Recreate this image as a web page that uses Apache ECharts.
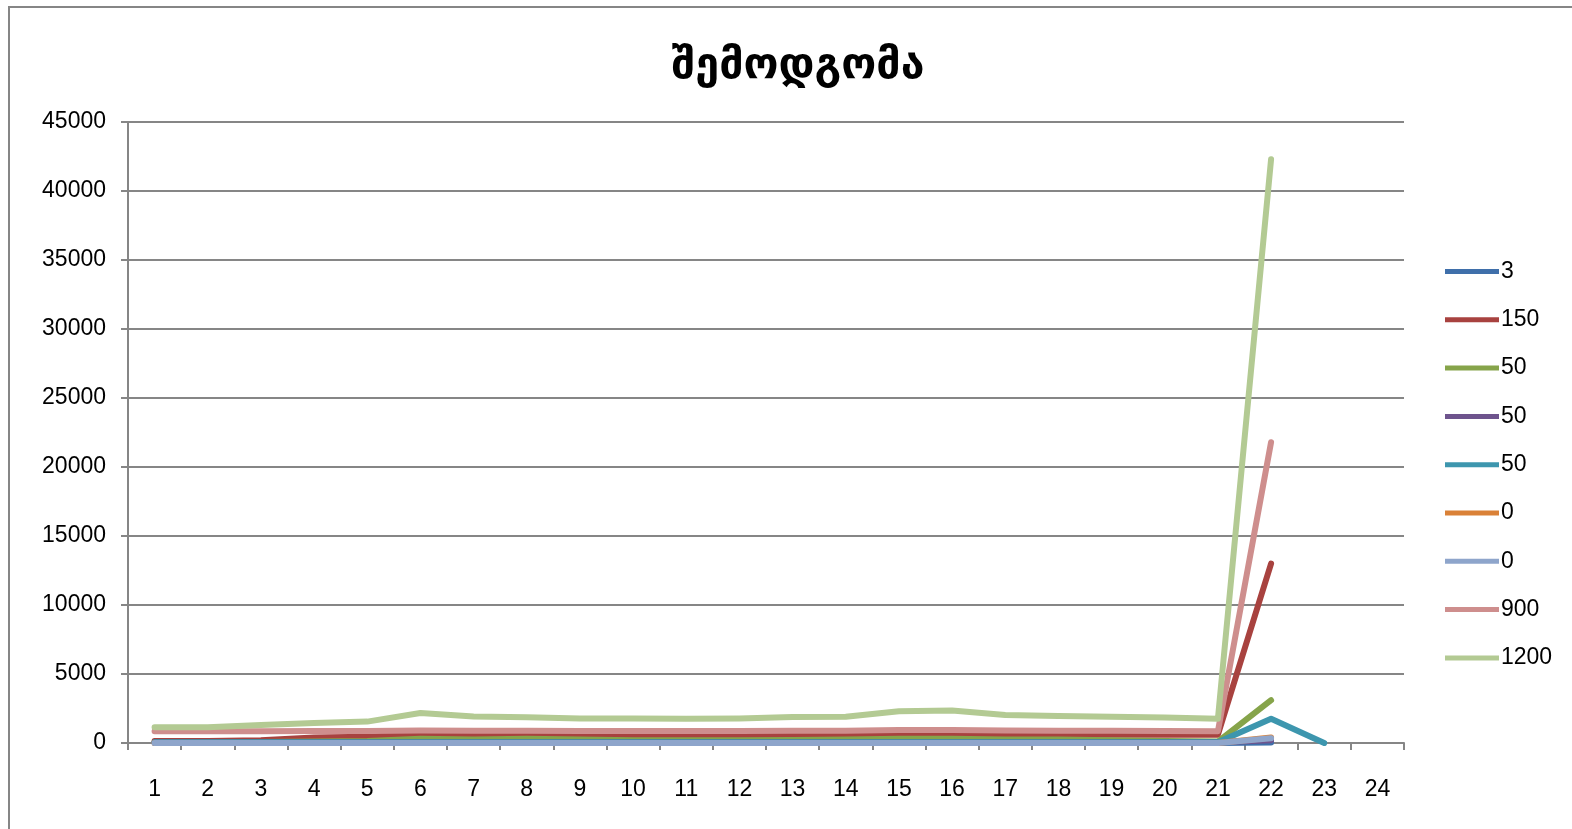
<!DOCTYPE html>
<html><head><meta charset="utf-8">
<script src="https://cdn.jsdelivr.net/npm/echarts@6/dist/echarts.min.js"></script>
<style>html,body{margin:0;padding:0;background:#fff;}#c{width:1572px;height:829px;}</style>
</head><body><div id="c"></div>
<script>
const title = 'შემოდგომა';
const categories = ['1','2','3','4','5','6','7','8','9','10','11','12','13','14','15','16','17','18','19','20','21','22','23','24'];
const seriesNames = ['3','150','50','50','50','0','0','900','1200'];
const s3    = [3,3,3,3,3,3,3,3,3,3,3,3,3,3,3,3,3,3,3,3,3,30];
const s150  = [150,150,200,400,450,650,600,600,550,550,550,550,600,600,650,650,600,600,600,600,600,13000];
const s50a  = [50,50,80,100,150,300,250,300,250,200,200,200,220,250,300,300,250,250,200,150,100,3100];
const s50b  = [50,50,50,50,50,50,50,50,50,50,50,50,50,50,50,50,50,50,50,50,50,200];
const s50c  = [50,50,50,50,50,50,50,50,50,50,50,50,50,50,50,50,50,50,50,50,50,1750,0];
const s0a   = [0,0,0,0,0,0,0,0,0,0,0,0,0,0,0,0,0,0,0,0,0,400];
const s0b   = [0,0,0,0,0,0,0,0,0,0,0,0,0,0,0,0,0,0,0,0,0,350];
const s900  = [850,850,850,870,870,900,880,880,870,870,870,870,880,880,950,950,900,880,880,870,850,21800];
const s1200 = [1150,1150,1300,1450,1550,2180,1920,1870,1780,1780,1750,1780,1880,1900,2300,2350,2030,1960,1900,1850,1760,42300];
const allData = [s3,s150,s50a,s50b,s50c,s0a,s0b,s900,s1200];
const colors = ['#3F6FAA','#A8423F','#86A44A','#6E548D','#3D96AE','#DA8137','#8EA5CB','#CE8E8D','#B3CA93'];

const chart = echarts.init(document.getElementById('c'));
chart.setOption({
  animation: false,
  backgroundColor: '#fff',
  color: colors,
  graphic: [{
    type: 'polyline', silent: true,
    shape: { points: [[9, 829], [9, 7], [1572, 7]] },
    style: { stroke: '#868686', lineWidth: 2, fill: null }
  }],
  title: {
    text: title, left: 793, top: 40, textAlign: 'center',
    textStyle: { fontFamily: 'DejaVu Sans', fontSize: 43, fontWeight: 'bold', color: '#000' }
  },
  legend: {
    orient: 'vertical', left: 1440, top: 255, itemGap: 25.3, itemWidth: 54, itemHeight: 22,
    icon: 'path://M0,8.5 L54,8.5 L54,13.5 L0,13.5 Z',
    textStyle: { fontFamily: 'Liberation Sans', fontSize: 23, color: '#000', padding: [0,0,0,-3] },
    data: seriesNames.map((n, i) => ({ name: n + '\u200b'.repeat(i), itemStyle: { color: colors[i] } }))
  },
  grid: { left: 128, right: 168, top: 122, bottom: 86 },
  xAxis: {
    type: 'category', data: categories, boundaryGap: true,
    axisLine: { lineStyle: { color: '#868686', width: 2 } },
    axisTick: { show: true, length: 7, alignWithLabel: false, lineStyle: { color: '#868686', width: 2 } },
    axisLabel: { fontFamily: 'Liberation Sans', fontSize: 23, color: '#000', margin: 35 }
  },
  yAxis: {
    type: 'value', min: 0, max: 45000, interval: 5000,
    axisLine: { show: true, lineStyle: { color: '#868686', width: 2 } },
    axisTick: { show: true, length: 7, lineStyle: { color: '#868686', width: 2 } },
    splitLine: { lineStyle: { color: '#868686', width: 2 } },
    axisLabel: { fontFamily: 'Liberation Sans', fontSize: 23, color: '#000', margin: 22, formatter: v => String(v), padding: [4,0,0,0] }
  },
  series: allData.map((d, i) => ({
    name: seriesNames[i] + '\u200b'.repeat(i), type: 'line', data: d,
    symbol: 'none', smooth: false,
    lineStyle: { width: 6, color: colors[i], cap: 'round', join: 'round' },
    itemStyle: { color: colors[i] },
    z: 2 + i
  }))
});
</script></body></html>
